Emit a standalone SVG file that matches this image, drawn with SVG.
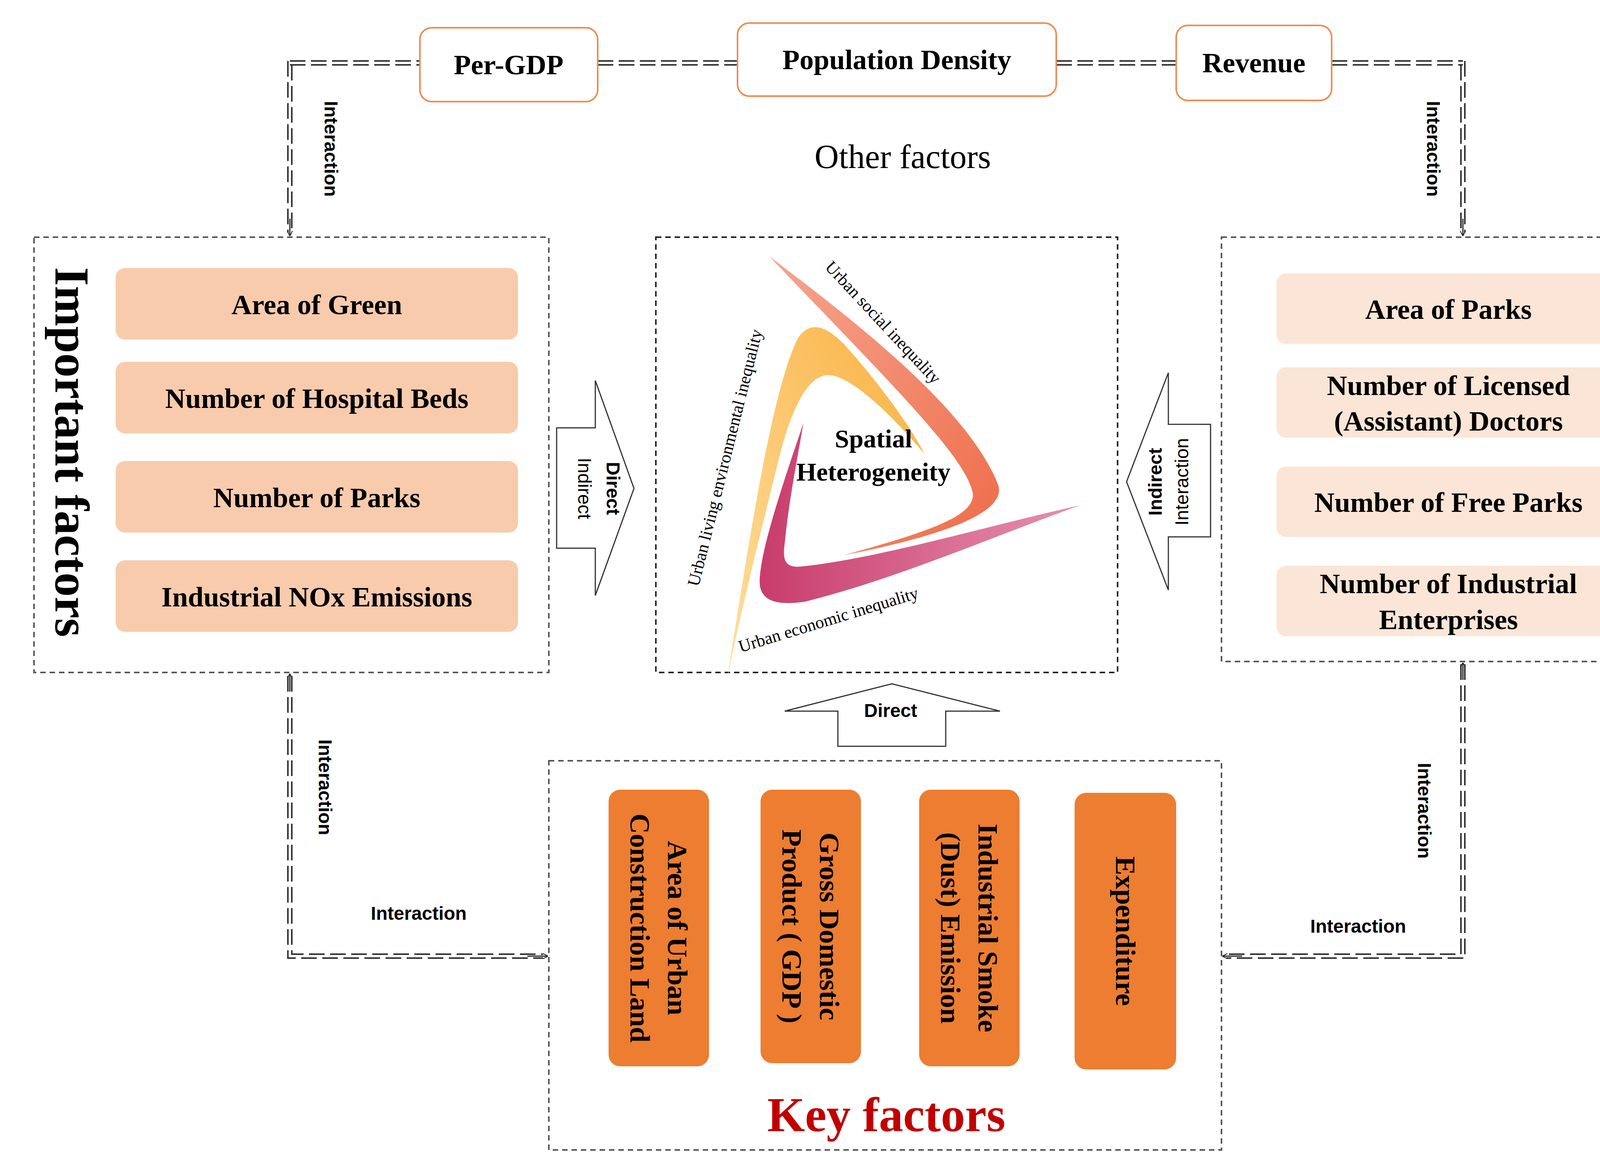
<svg xmlns="http://www.w3.org/2000/svg" width="4403" height="2979" viewBox="0 0 4403 2979">
<defs>
<style>
.serif{font-family:"Liberation Serif","Times New Roman",serif}
.b{font-weight:bold}
.sans{font-family:"Liberation Sans",Arial,sans-serif;font-weight:bold}
.pill{font-family:"Liberation Serif",serif;font-weight:bold;font-size:72px;text-anchor:middle;dominant-baseline:central;fill:#000}
.dl{fill:none;stroke:#333;stroke-width:4;stroke-dasharray:40 14}
.frame{fill:#fff;stroke:#555;stroke-width:4;stroke-dasharray:14 10}
.top{fill:#fff;stroke:#F08A4B;stroke-width:4}
.blk{fill:#fff;stroke:#333;stroke-width:3}
.lbl{font-family:"Liberation Sans",Arial,sans-serif;font-weight:bold;font-size:48px;text-anchor:middle;dominant-baseline:central}
</style>
<linearGradient id="gs" x1="0" y1="0" x2="1" y2="1"><stop offset="0" stop-color="#F6A590"/><stop offset="1" stop-color="#EE6C48"/></linearGradient>
<linearGradient id="gy" x1="0" y1="1" x2="1" y2="0"><stop offset="0" stop-color="#FFE0A0"/><stop offset="1" stop-color="#F9B040"/></linearGradient>
<linearGradient id="gm" x1="0" y1="0" x2="1" y2="0"><stop offset="0" stop-color="#C83C6C"/><stop offset="1" stop-color="#E692B0"/></linearGradient>
<marker id="ar" viewBox="0 0 20 20" refX="18" refY="10" markerWidth="14" markerHeight="14" markerUnits="userSpaceOnUse" orient="auto"><path d="M0,0 L20,10 L0,20" fill="none" stroke="#222" stroke-width="3"/></marker>
</defs>

<g id="connectors">
<!-- top -->
<path class="dl" d="M742,156 H1075 M742,166 H1075 M1530,156 H1888 M1530,166 H1888 M2704,156 H3011 M2704,166 H3011 M3409,156 H3745 M3409,166 H3745"/>
<path class="dl" d="M737,156 V595 M747,166 V595"/>
<path d="M742,560 V603" stroke="#222" stroke-width="3" marker-end="url(#ar)"/>
<path class="dl" d="M3740,166 V595 M3750,156 V595"/>
<path d="M3745,560 V603" stroke="#222" stroke-width="3" marker-end="url(#ar)"/>
<!-- bottom left -->
<path class="dl" d="M737,1730 V2452 H1390 M747,1730 V2442 H1390"/>
<path d="M742,1770 V1725" stroke="#222" stroke-width="3" marker-end="url(#ar)"/>
<path d="M1350,2447 H1402" stroke="#222" stroke-width="3" marker-end="url(#ar)"/>
<!-- bottom right -->
<path class="dl" d="M3750,1700 V2452 H3140 M3740,1700 V2442 H3140"/>
<path d="M3745,1740 V1697" stroke="#222" stroke-width="3" marker-end="url(#ar)"/>
<path d="M3180,2447 H3130" stroke="#222" stroke-width="3" marker-end="url(#ar)"/>
<text class="lbl" transform="translate(847,381) rotate(90)">Interaction</text>
<text class="lbl" transform="translate(3669,381) rotate(90)">Interaction</text>
<text class="lbl" transform="translate(832,2015) rotate(90)">Interaction</text>
<text class="lbl" transform="translate(3646,2075) rotate(90)">Interaction</text>
<text class="lbl" x="1072" y="2337">Interaction</text>
<text class="lbl" x="3477" y="2370">Interaction</text>
<!-- block arrows -->
<path class="blk" d="M1425,1095 H1524 V974 L1623,1250 L1524,1524 V1403 H1425 Z"/>
<text class="lbl" transform="translate(1569,1250) rotate(90)">Direct</text>
<text class="lbl" style="font-weight:normal" transform="translate(1496,1250) rotate(90)">Indirect</text>
<path class="blk" d="M3099,1086 H2991 V954 L2884,1233 L2991,1510 V1374 H3099 Z"/>
<text class="lbl" transform="translate(2957,1233) rotate(-90)">Indirect</text>
<text class="lbl" style="font-weight:normal" transform="translate(3025,1233) rotate(-90)">Interaction</text>
<path class="blk" d="M2145,1910 V1820 H2009 L2283,1750 L2560,1820 H2421 V1910 Z"/>
<text class="lbl" x="2280" y="1818">Direct</text>
</g>

<g id="per-gdp"><rect class="top" x="1075" y="71" width="455" height="189" rx="30"/><text class="serif b" x="1302" y="190" font-size="72" text-anchor="middle">Per-GDP</text></g>
<g id="population-density"><rect class="top" x="1888" y="59" width="816" height="187" rx="30"/><text class="serif b" x="2296" y="177" font-size="72" text-anchor="middle">Population Density</text></g>
<g id="revenue"><rect class="top" x="3011" y="65" width="398" height="192" rx="30"/><text class="serif b" x="3210" y="185" font-size="72" text-anchor="middle">Revenue</text></g>
<g id="other-factors"><text class="serif" x="2311" y="430" font-size="86" text-anchor="middle">Other factors</text></g>

<g id="important-factors">
<rect class="frame" x="87" y="607" width="1318" height="1114"/>
<text class="serif b" transform="translate(183,1157) rotate(90)" font-size="124" text-anchor="middle" dominant-baseline="central">Important factors</text>
<rect x="296" y="686" width="1030" height="183" rx="24" fill="#F8CBAD"/><text class="pill" x="811" y="780">Area of Green</text>
<rect x="296" y="926" width="1030" height="183" rx="24" fill="#F8CBAD"/><text class="pill" x="811" y="1020">Number of Hospital Beds</text>
<rect x="296" y="1180" width="1030" height="183" rx="24" fill="#F8CBAD"/><text class="pill" x="811" y="1274">Number of Parks</text>
<rect x="296" y="1434" width="1030" height="183" rx="24" fill="#F8CBAD"/><text class="pill" x="811" y="1528">Industrial NOx Emissions</text>
</g>

<g id="spatial-heterogeneity">
<rect class="frame" x="1679" y="607" width="1182" height="1114" style="stroke:#222"/>
<path fill="url(#gs)" d="M1969,656 C2200,830 2480,1050 2555,1240 C2580,1310 2420,1370 2160,1421 C2380,1360 2500,1320 2490,1260 C2470,1170 2300,1000 1969,656 Z"/>
<path fill="url(#gy)" d="M1861,1740 C1930,1300 1980,1000 2040,870 C2070,820 2110,830 2160,880 C2250,980 2330,1090 2367,1162 C2290,1070 2180,960 2120,960 C2070,960 2030,1040 2000,1150 C1950,1350 1900,1550 1861,1740 Z"/>
<path fill="url(#gm)" d="M2057,1082 C2000,1250 1950,1400 1945,1480 C1940,1540 1990,1550 2060,1540 C2300,1480 2550,1370 2766,1293 C2550,1340 2250,1430 2050,1450 C2000,1455 2005,1420 2010,1380 C2020,1280 2040,1180 2057,1082 Z"/>
<text class="serif" font-size="44" text-anchor="middle" transform="translate(2250,835) rotate(47)">Urban social inequality</text>
<text class="serif" font-size="44" text-anchor="middle" transform="translate(1870,1175) rotate(-76)">Urban living  environmental  inequality</text>
<text class="serif" font-size="44" text-anchor="middle" transform="translate(2125,1600) rotate(-17)">Urban economic  inequality</text>
<text class="serif b" x="2236" y="1145" font-size="66" text-anchor="middle">Spatial</text>
<text class="serif b" x="2236" y="1230" font-size="66" text-anchor="middle">Heterogeneity</text>
</g>

<g id="auxiliary-factors">
<rect class="frame" x="3127" y="607" width="1233" height="1086"/>
<text class="serif" transform="translate(4247,1143) rotate(90)" font-size="124" text-anchor="middle" dominant-baseline="central">Auxiliary factors</text>
<rect x="3268" y="700" width="880" height="180" rx="24" fill="#FBE5D6"/><text class="pill" x="3708" y="792">Area of Parks</text>
<rect x="3268" y="940" width="880" height="180" rx="24" fill="#FBE5D6"/><text class="pill" x="3708" y="987">Number of Licensed</text><text class="pill" x="3708" y="1078">(Assistant) Doctors</text>
<rect x="3268" y="1194" width="880" height="180" rx="24" fill="#FBE5D6"/><text class="pill" x="3708" y="1286">Number of Free Parks</text>
<rect x="3268" y="1448" width="880" height="180" rx="24" fill="#FBE5D6"/><text class="pill" x="3708" y="1494">Number of Industrial</text><text class="pill" x="3708" y="1586">Enterprises</text>
</g>

<g id="key-factors">
<rect class="frame" x="1405" y="1947" width="1722" height="996"/>
<rect x="1558" y="2021" width="257" height="708" rx="30" fill="#ED7D31"/>
<text class="pill" font-size="80" transform="translate(1686,2375) rotate(90)"><tspan x="0" y="-48">Area of Urban</tspan><tspan x="0" y="48">Construction Land</tspan></text>
<rect x="1947" y="2021" width="257" height="700" rx="30" fill="#ED7D31"/>
<text class="pill" font-size="80" transform="translate(2075,2371) rotate(90)"><tspan x="0" y="-48">Gross Domestic</tspan><tspan x="0" y="48">Product ( GDP )</tspan></text>
<rect x="2353" y="2021" width="257" height="708" rx="30" fill="#ED7D31"/>
<text class="pill" font-size="80" transform="translate(2481,2375) rotate(90)"><tspan x="0" y="-48">Industrial Smoke</tspan><tspan x="0" y="48">(Dust) Emission</tspan></text>
<rect x="2751" y="2029" width="260" height="708" rx="30" fill="#ED7D31"/>
<text class="pill" font-size="80" transform="translate(2881,2383) rotate(90)">Expenditure</text>
<text class="serif b" x="2269" y="2895" font-size="124" fill="#C00000" text-anchor="middle">Key factors</text>
</g>
</svg>
